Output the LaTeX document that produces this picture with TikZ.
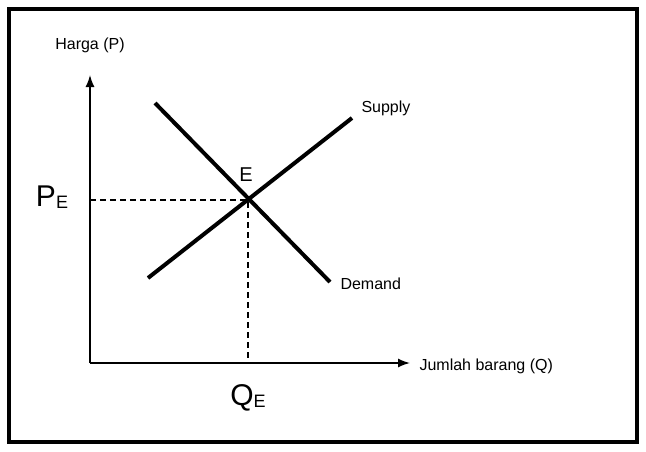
\documentclass[tikz,border=0pt]{standalone}
\usepackage{fontspec}
\setmainfont{Liberation Sans}
\usetikzlibrary{arrows.meta}
\begin{document}
\begin{tikzpicture}[x=1pt,y=-1pt,
  lbl/.style={font=\fontsize{16}{18}\selectfont},
  big/.style={font=\fontsize{30}{32}\selectfont},
  curve/.style={line width=4pt},
  axis/.style={line width=1.5pt,-{Latex[length=12pt,width=9pt]}}]
\useasboundingbox (0,0) rectangle (646,451);
\draw[line width=4pt] (9,9) rectangle (637,442);
\coordinate (O) at (90,363);
\coordinate (Ytop) at (90,75);
\coordinate (Xend) at (410,363);
\draw[axis] (O) -- (Ytop);
\draw[axis] (O) -- (Xend);
\coordinate (S1) at (148,278); \coordinate (S2) at (352,118);
\coordinate (D1) at (155,103); \coordinate (D2) at (330,282);
\draw[curve] (S1) -- (S2);
\draw[curve] (D1) -- (D2);
\coordinate (Eq) at (248,200);
\coordinate (Py) at (90,200);
\coordinate (Qx) at (248,363);
\draw[line width=1.2pt,dash pattern=on 6pt off 4pt] (Py) -- (Eq) -- (Qx);
\node[lbl] (hp) at (90,45) {Harga (P)};
\node[lbl,anchor=west] (sup) at (358,108) {Supply};
\node[lbl,anchor=west] (dem) at (337,284) {Demand};
\node[lbl,font=\fontsize{20}{22}\selectfont] (E) at (246,175) {E};
\node[lbl,anchor=west] (jb) at (416,366) {Jumlah barang (Q)};
\node[big] (PE) at (52,197) {P\raisebox{-2pt}{\fontsize{18}{20}\selectfont E}};
\node[big] (QE) at (248,398) {Q\raisebox{-2pt}{\fontsize{18}{20}\selectfont E}};
\end{tikzpicture}
\end{document}
